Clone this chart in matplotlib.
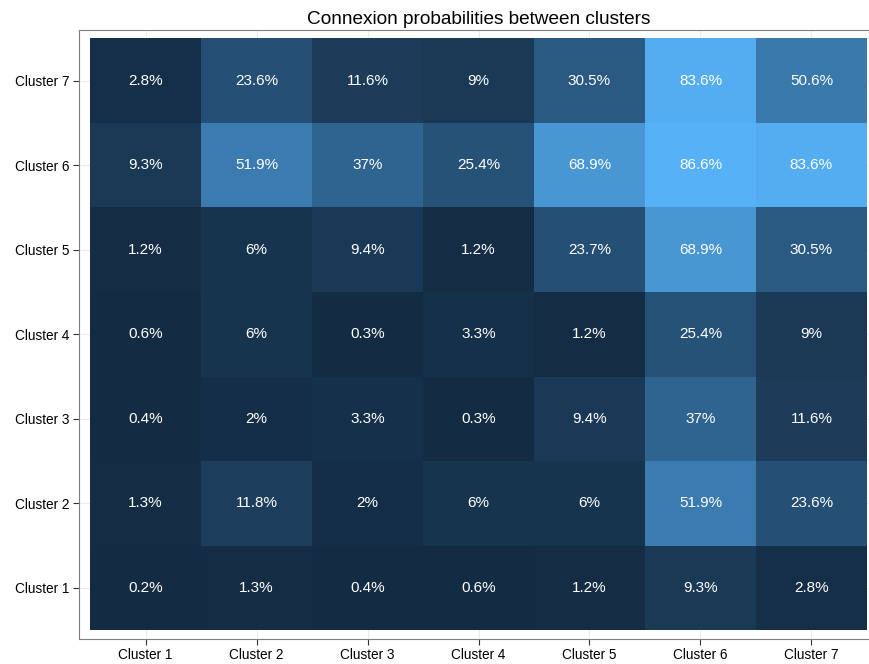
import matplotlib.pyplot as plt
import numpy as np
from matplotlib.colors import LinearSegmentedColormap

plt.rcParams['font.family'] = ['Liberation Sans', 'DejaVu Sans']

clusters = ['Cluster 1', 'Cluster 2', 'Cluster 3', 'Cluster 4', 'Cluster 5', 'Cluster 6', 'Cluster 7']

# rows: Cluster 1 .. Cluster 7 (y), columns: Cluster 1 .. Cluster 7 (x), in percent
probs = np.array([
    [0.2, 1.3, 0.4, 0.6, 1.2, 9.3, 2.8],
    [1.3, 11.8, 2, 6, 6, 51.9, 23.6],
    [0.4, 2, 3.3, 0.3, 9.4, 37, 11.6],
    [0.6, 6, 0.3, 3.3, 1.2, 25.4, 9],
    [1.2, 6, 9.4, 1.2, 23.7, 68.9, 30.5],
    [9.3, 51.9, 37, 25.4, 68.9, 86.6, 83.6],
    [2.8, 23.6, 11.6, 9, 30.5, 83.6, 50.6],
])

cmap = LinearSegmentedColormap.from_list('gg', ['#132B43', '#56B1F7'])

fig = plt.figure(figsize=(8.7, 6.64), dpi=100)
ax = fig.add_axes([79/870, 25.5/664, 799/870, 608.5/664])

n = len(clusters)
x = np.arange(1, n + 1)
ax.pcolormesh(np.arange(0.5, n + 1), np.arange(0.5, n + 1), probs, cmap=cmap,
              vmin=probs.min(), vmax=probs.max(), zorder=2)
for i in range(n):
    for j in range(n):
        ax.text(x[j], x[i], f'{probs[i, j]:g}%', ha='center', va='center',
                color='white', fontsize=11, zorder=3)

ax.set_xlim(0.4, n + 0.6)
ax.set_ylim(0.4, n + 0.6)
ax.set_xticks(x)
ax.set_xticklabels(clusters)
ax.set_yticks(x)
ax.set_yticklabels(clusters)
ax.tick_params(labelsize=9.8, length=4, width=0.8, color='#333333', labelcolor='black', pad=3)
ax.grid(True, color='#ebebeb', linewidth=0.8, zorder=0)
ax.set_axisbelow(True)
for side in ['left', 'bottom', 'top']:
    ax.spines[side].set_color('#7f7f7f')
    ax.spines[side].set_linewidth(0.8)
ax.spines['right'].set_visible(False)

ax.set_title('Connexion probabilities between clusters', fontsize=13.7, pad=4)

plt.savefig('out.png', dpi=100)
